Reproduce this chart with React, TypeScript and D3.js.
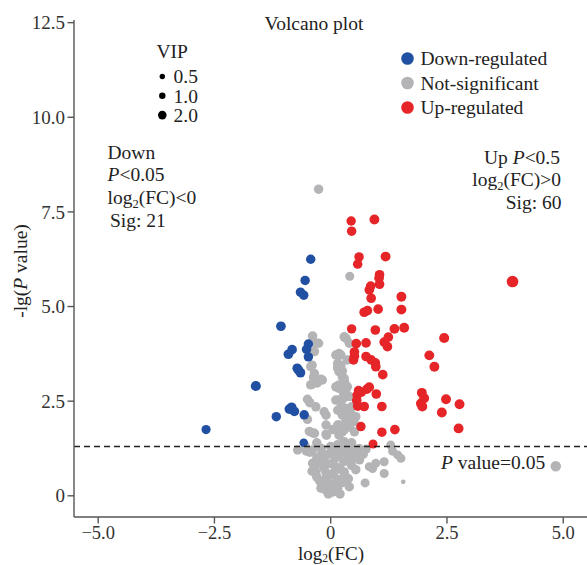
import React from 'react';
import * as d3 from 'd3';

const W = 587;
const H = 565;

const xTicks = [-5, -2.5, 0, 2.5, 5];
const yTicks = [0, 2.5, 5, 7.5, 10, 12.5];
const vipLegend = [0.5, 1.0, 2.0];
const groups = ['Down-regulated', 'Not-significant', 'Up-regulated'];
const groupColors = ['#2150a3', '#b4b4b6', '#e52528'];
const pThreshold = 0.05;

// [log2FC, -lg(P), VIP]
const downPoints: [number, number, number][] = [
  [-0.43, 6.25, 2.4], [-0.55, 5.69, 2.4], [-0.65, 5.38, 2.4], [-0.58, 5.3, 2.4],
  [-1.07, 4.48, 2.5], [-0.83, 3.86, 2.5], [-0.91, 3.74, 2.5], [-0.48, 4.01, 2.4],
  [-0.52, 3.87, 2.4], [-0.48, 3.67, 2.4], [-0.69, 3.32, 2.5], [-0.65, 3.25, 2.5],
  [-1.61, 2.9, 2.7], [-0.84, 2.34, 2.5], [-0.78, 2.23, 2.5], [-1.17, 2.09, 2.4],
  [-0.57, 2.14, 2.4], [-2.68, 1.75, 2.3], [-0.58, 1.4, 2.0], [-0.72, 3.37, 2.5],
  [-0.89, 2.29, 2.5],
];

const upPoints: [number, number, number][] = [
  [0.44, 7.26, 2.4], [0.45, 6.99, 2.4], [0.94, 7.3, 2.6], [0.61, 6.31, 2.4],
  [0.58, 6.12, 2.4], [1.18, 6.32, 2.6], [1.05, 5.84, 2.5], [0.86, 5.54, 2.5],
  [1.05, 5.59, 2.5], [0.87, 5.22, 2.5], [1.52, 5.26, 2.6], [0.72, 4.85, 2.5],
  [0.79, 4.89, 2.5], [1.02, 4.93, 2.5], [1.52, 4.92, 2.6], [0.45, 4.41, 2.4],
  [0.96, 4.38, 2.5], [1.37, 4.41, 2.6], [1.58, 4.44, 2.6], [2.44, 4.17, 2.7],
  [1.24, 4.19, 2.5], [1.22, 3.94, 2.5], [0.55, 4.02, 2.5], [0.76, 4.04, 2.5],
  [0.51, 3.69, 2.5], [0.49, 3.59, 2.5], [0.76, 3.68, 2.5], [0.96, 3.51, 2.5],
  [0.97, 3.41, 2.5], [1.12, 3.2, 2.5], [2.12, 3.71, 2.6], [2.23, 3.41, 2.6],
  [0.6, 2.78, 2.5], [0.57, 2.66, 2.5], [0.83, 2.87, 2.5], [0.98, 2.69, 2.5],
  [0.56, 2.52, 2.5], [0.58, 2.37, 2.5], [0.72, 2.36, 2.5], [1.1, 2.36, 2.5],
  [0.65, 1.83, 2.4], [1.1, 1.68, 2.4], [1.38, 1.75, 2.5], [0.91, 1.37, 2.2],
  [1.96, 2.72, 2.6], [1.94, 2.44, 2.6], [1.97, 2.36, 2.6], [2.48, 2.55, 2.6],
  [2.77, 2.42, 2.6], [2.39, 2.2, 2.6], [2.75, 1.78, 2.6], [3.91, 5.66, 3.4],
  [0.66, 2.74, 2.5], [0.78, 2.82, 2.5], [0.51, 3.8, 2.5], [0.87, 3.59, 2.5],
  [1.15, 4.06, 2.5], [1.04, 5.75, 2.5], [0.83, 5.44, 2.5], [2.01, 2.58, 2.6],
];

const nsPoints: [number, number, number][] = [
  [-0.26, 8.1, 2.4], [0.41, 5.8, 2.2],
  [-0.39, 4.22, 2.5], [-0.32, 4.03, 2.4], [-0.26, 4.03, 2.4], [-0.35, 3.81, 2.4],
  [-0.4, 3.45, 2.4], [-0.43, 3.41, 2.4], [-0.35, 3.23, 2.4], [-0.37, 3.13, 2.4],
  [-0.21, 3.08, 2.4], [-0.18, 3.06, 2.4], [-0.29, 2.98, 2.4], [-0.4, 2.95, 2.4],
  [-0.43, 2.93, 2.4], [-0.5, 2.55, 2.4], [-0.45, 2.46, 2.4], [-0.32, 2.35, 2.4],
  [-0.14, 2.22, 2.4], [-0.1, 2.13, 2.4], [-0.5, 2.02, 2.4], [-0.38, 1.66, 2.4],
  [-0.1, 1.63, 2.4], [-0.46, 1.7, 2.4], [-0.35, 1.65, 2.4], [-0.09, 1.6, 2.4],
  [-0.1, 1.87, 2.4],
  [0.29, 4.2, 2.4], [0.4, 4.03, 2.4], [0.22, 3.72, 2.4], [0.11, 3.72, 2.4],
  [0.18, 3.76, 2.4], [0.36, 3.59, 2.4], [0.15, 3.41, 2.4], [0.22, 3.45, 2.4],
  [0.25, 3.3, 2.4], [0.15, 3.37, 2.4], [0.18, 3.28, 2.4], [0.25, 3.14, 2.4],
  [0.11, 2.88, 2.4], [0.18, 2.84, 2.4], [0.18, 2.93, 2.4], [0.36, 2.88, 2.4],
  [0.27, 2.57, 2.4], [0.4, 2.62, 2.4], [0.11, 2.53, 2.4], [0.22, 2.44, 2.4],
  [0.33, 2.31, 2.4], [0.15, 2.26, 2.4], [0.43, 2.18, 2.4], [0.25, 2.13, 2.4],
  [0.54, 2.09, 2.4], [0.33, 1.96, 2.4], [0.5, 1.96, 2.4], [0.18, 1.87, 2.4],
  [0.4, 1.82, 2.4], [0.25, 1.69, 2.4], [0.51, 1.69, 2.4], [0.22, 1.78, 2.4],
  [0.05, 1.75, 2.4], [0.33, 2.05, 2.4], [0.45, 2.35, 2.4], [0.28, 2.7, 2.4],
  [0.3, 3.0, 2.4], [0.33, 4.16, 2.4], [0.15, 3.5, 2.4], [0.29, 3.1, 2.4],
  [0.36, 2.66, 2.4], [0.18, 2.53, 2.4], [0.4, 2.13, 2.4], [0.47, 1.96, 2.4],
  [0.29, 1.74, 2.4], [0.18, 1.6, 2.4], [0.29, 1.43, 2.4], [0.15, 1.87, 2.4],
  [0.4, 1.87, 2.4],
  [-0.71, 1.21, 2.4], [-0.39, 1.21, 2.4], [-0.21, 1.08, 2.4], [-0.39, 0.86, 2.4],
  [-0.32, 0.63, 2.4], [-0.14, 0.72, 2.4], [-0.03, 0.55, 2.4], [0.11, 0.77, 2.4],
  [0.18, 1.08, 2.4], [0.29, 1.34, 2.4], [0.22, 1.21, 2.4], [0.43, 1.21, 2.4],
  [0.54, 1.12, 2.4], [0.61, 1.25, 2.4], [0.76, 1.23, 2.4], [0.38, 0.95, 2.4],
  [0.54, 0.69, 2.4], [0.29, 0.63, 2.4], [0.18, 0.42, 2.4], [0.4, 0.24, 2.4],
  [-0.21, 0.2, 2.4], [-0.03, 0.15, 2.4], [0.11, 0.28, 2.4], [-0.07, 0.37, 2.4],
  [-0.25, 0.42, 2.4], [-0.35, 0.69, 2.4], [0.83, 0.77, 2.2], [0.97, 0.86, 2.2],
  [1.15, 0.9, 2.2], [1.15, 0.59, 2.2], [1.44, 1.08, 2.2], [1.51, 0.99, 2.2],
  [1.29, 1.34, 2.2], [0.74, 0.34, 2.2], [1.56, 0.37, 0.2], [1.33, 1.18, 2.2],
  [0.9, 0.72, 2.2],
  [-0.45, 1.15, 2.4], [-0.3, 1.0, 2.4], [-0.25, 0.85, 2.4], [-0.15, 0.95, 2.4],
  [-0.05, 1.1, 2.4], [0.05, 1.2, 2.4], [0.1, 1.0, 2.4], [0.0, 0.85, 2.4],
  [-0.1, 0.6, 2.4], [0.05, 0.6, 2.4], [0.2, 0.7, 2.4], [0.28, 0.9, 2.4],
  [0.35, 1.1, 2.4], [-0.2, 0.3, 2.4], [-0.1, 0.15, 2.4], [0.05, 0.1, 2.4],
  [0.15, 0.2, 2.4], [0.25, 0.35, 2.4], [0.3, 0.55, 2.4], [-0.3, 0.5, 2.4],
  [-0.4, 0.65, 2.4], [0.45, 0.8, 2.4], [0.12, 0.45, 2.4], [-0.15, 0.4, 2.4],
  [0.0, 0.3, 2.4], [0.2, 0.05, 2.4], [-0.05, 0.05, 2.4], [0.38, 0.45, 2.4],
  [0.48, 1.0, 2.4], [0.62, 0.95, 2.4], [0.7, 1.1, 2.4], [-0.52, 1.18, 2.4],
  [-0.55, 1.32, 2.4], [-0.2, 1.25, 2.4], [0.0, 1.3, 2.4], [0.15, 1.35, 2.4],
  [0.45, 1.4, 2.4], [-0.3, 1.4, 2.4],
  [4.84, 0.78, 2.9],
];

const FONT = "'Liberation Serif', 'Times New Roman', serif";

export default function App() {
  const x = d3.scaleLinear().domain([-5.52, 5.52]).range([74, 587.4]);
  const y = d3.scaleLinear().domain([-0.56, 12.57]).range([517, 20]);
  const r = d3.scaleLinear().domain([0.5, 2]).range([2.7, 4.3]);
  const fmt = (v: number) => (v === 0 ? '0' : d3.format('.1f')(v));
  const axisColor = '#555';
  const fs = 19.5;
  const tfs = 18.5;
  const yCut = y(-Math.log10(pThreshold));

  const series: [[number, number, number][], string][] = [
    [nsPoints, groupColors[1]],
    [downPoints, groupColors[0]],
    [upPoints, groupColors[2]],
  ];

  return (
    <svg
      width={W}
      height={H}
      style={{ position: 'absolute', left: 0, top: 0, background: '#fff' }}
      fontFamily={FONT}
    >
      <rect x={0} y={0} width={W} height={H} fill="#fff" />
      {series.map(([pts, col], si) => (
        <g key={si}>
          {pts.map((p, i) => (
            <circle key={i} cx={x(p[0])} cy={y(p[1])} r={r(p[2])} fill={col} />
          ))}
        </g>
      ))}
      <line x1={74} x2={W} y1={yCut} y2={yCut} stroke="#222" strokeWidth={1.4} strokeDasharray="6,4" />
      <line x1={74} x2={74} y1={20} y2={517} stroke={axisColor} strokeWidth={1.4} />
      <line x1={74} x2={W} y1={517} y2={517} stroke={axisColor} strokeWidth={1.4} />
      {yTicks.map((t) => (
        <g key={'y' + t}>
          <line x1={67.5} x2={74} y1={y(t)} y2={y(t)} stroke={axisColor} strokeWidth={1.4} />
          <text x={65} y={y(t)} dy="0.35em" textAnchor="end" fontSize={tfs + 0.5} fill="#333">
            {fmt(t)}
          </text>
        </g>
      ))}
      {xTicks.map((t) => (
        <g key={'x' + t}>
          <line x1={x(t)} x2={x(t)} y1={517} y2={523.5} stroke={axisColor} strokeWidth={1.4} />
          <text x={x(t)} y={538.5} textAnchor="middle" fontSize={tfs} fill="#333">
            {fmt(t)}
          </text>
        </g>
      ))}
      <text x={331} y={559.5} textAnchor="middle" fontSize={19} fill="#222">
        <tspan>log</tspan>
        <tspan fontSize={11.5} dy={2.5}>2</tspan>
        <tspan dy={-2.5}>(FC)</tspan>
      </text>
      <text transform="translate(27,271) rotate(-90)" textAnchor="middle" fontSize={fs} fill="#222">
        <tspan>-lg(</tspan>
        <tspan fontStyle="italic">P</tspan>
        <tspan> value)</tspan>
      </text>
      <text x={314} y={30} textAnchor="middle" fontSize={fs} fill="#222">
        Volcano plot
      </text>
      <text x={156.5} y={58} fontSize={fs} fill="#222">VIP</text>
      {vipLegend.map((v, i) => (
        <g key={'v' + v}>
          <circle cx={162.3} cy={76.5 + i * 19.3} r={r(v)} fill="#000" />
          <text x={173.5} y={76.5 + i * 19.3} dy="0.35em" fontSize={fs} fill="#222">
            {v.toFixed(1)}
          </text>
        </g>
      ))}
      {groups.map((g, i) => (
        <g key={g}>
          <circle cx={407.5} cy={58.5 + i * 24.5} r={6.3} fill={groupColors[i]} />
          <text x={420.5} y={58.5 + i * 24.5} dy="0.35em" fontSize={fs} fill="#222">
            {g}
          </text>
        </g>
      ))}
      <g fontSize={fs} fill="#222">
        <text x={107.5} y={158.5}>Down</text>
        <text x={107.5} y={181}>
          <tspan fontStyle="italic">P</tspan>
          <tspan>&lt;0.05</tspan>
        </text>
        <text x={107.5} y={203.5}>
          <tspan>log</tspan>
          <tspan fontSize={12.5} dy={4}>2</tspan>
          <tspan dy={-4}>(FC)&lt;0</tspan>
        </text>
        <text x={110} y={226.5}>Sig: 21</text>
      </g>
      <g fontSize={fs} fill="#222" textAnchor="end">
        <text x={560} y={163.5}>
          <tspan>Up </tspan>
          <tspan fontStyle="italic">P</tspan>
          <tspan>&lt;0.5</tspan>
        </text>
        <text x={561} y={186}>
          <tspan>log</tspan>
          <tspan fontSize={12.5} dy={4}>2</tspan>
          <tspan dy={-4}>(FC)&gt;0</tspan>
        </text>
        <text x={561.5} y={208.5}>Sig: 60</text>
      </g>
      <text x={441} y={468.5} fontSize={fs} fill="#222">
        <tspan fontStyle="italic">P</tspan>
        <tspan> value=0.05</tspan>
      </text>
    </svg>
  );
}
